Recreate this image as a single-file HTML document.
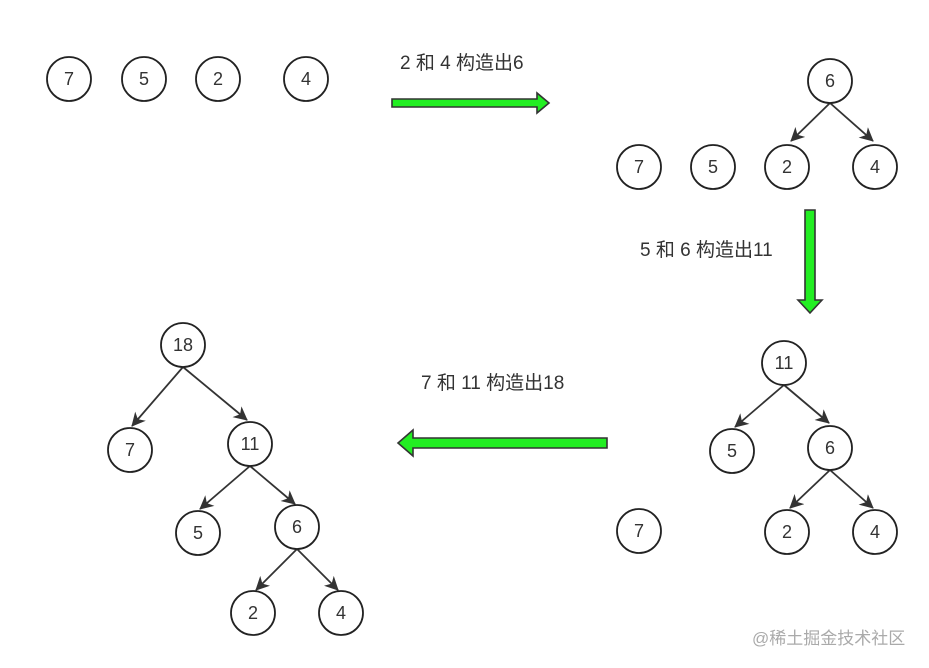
<!DOCTYPE html>
<html><head><meta charset="utf-8"><style>body{margin:0;background:#fff}svg{display:block}text{font-family:"Liberation Sans","Noto Sans CJK SC",sans-serif}</style></head><body>
<svg width="929" height="668" viewBox="0 0 929 668" xmlns="http://www.w3.org/2000/svg">
<defs><marker id="a" markerWidth="14" markerHeight="14" refX="13" refY="7" orient="auto" markerUnits="userSpaceOnUse" viewBox="0 0 14 14"><path d="M0,0 L14,7 L0,14 L4,7 z" fill="#333"/></marker></defs>
<g stroke="#333" stroke-width="1.8" marker-end="url(#a)">
<line x1="830" y1="103" x2="791" y2="141"/><line x1="830" y1="103" x2="873" y2="141"/>
<line x1="784" y1="385" x2="735" y2="427"/><line x1="784" y1="385" x2="829" y2="423"/>
<line x1="830" y1="470" x2="790" y2="508"/><line x1="830" y1="470" x2="873" y2="508"/>
<line x1="183" y1="367" x2="132" y2="426"/><line x1="183" y1="367" x2="247" y2="420"/>
<line x1="250" y1="466" x2="200" y2="509"/><line x1="250" y1="466" x2="295" y2="504"/>
<line x1="297" y1="549" x2="256" y2="590"/><line x1="297" y1="549" x2="338" y2="590"/>
</g>
<g fill="#fff" stroke="#222" stroke-width="1.8">
<circle cx="69" cy="79" r="22"/><circle cx="144" cy="79" r="22"/><circle cx="218" cy="79" r="22"/><circle cx="306" cy="79" r="22"/>
<circle cx="830" cy="81" r="22"/><circle cx="639" cy="167" r="22"/><circle cx="713" cy="167" r="22"/><circle cx="787" cy="167" r="22"/><circle cx="875" cy="167" r="22"/>
<circle cx="784" cy="363" r="22"/><circle cx="732" cy="451" r="22"/><circle cx="830" cy="448" r="22"/><circle cx="639" cy="531" r="22"/><circle cx="787" cy="532" r="22"/><circle cx="875" cy="532" r="22"/>
<circle cx="183" cy="345" r="22"/><circle cx="130" cy="450" r="22"/><circle cx="250" cy="444" r="22"/><circle cx="198" cy="533" r="22"/><circle cx="297" cy="527" r="22"/><circle cx="253" cy="613" r="22"/><circle cx="341" cy="613" r="22"/>
</g>
<g font-size="18" fill="#333" text-anchor="middle" dominant-baseline="central">
<text x="69" y="79">7</text><text x="144" y="79">5</text><text x="218" y="79">2</text><text x="306" y="79">4</text>
<text x="830" y="81">6</text><text x="639" y="167">7</text><text x="713" y="167">5</text><text x="787" y="167">2</text><text x="875" y="167">4</text>
<text x="784" y="363">11</text><text x="732" y="451">5</text><text x="830" y="448">6</text><text x="639" y="531">7</text><text x="787" y="532">2</text><text x="875" y="532">4</text>
<text x="183" y="345">18</text><text x="130" y="450">7</text><text x="250" y="444">11</text><text x="198" y="533">5</text><text x="297" y="527">6</text><text x="253" y="613">2</text><text x="341" y="613">4</text>
</g>
<g fill="#22ee22" stroke="#333" stroke-width="1.6">
<path d="M392,99 L537,99 L537,93 L549,103 L537,113 L537,107 L392,107 Z"/>
<path d="M805,210 L815,210 L815,300 L822,300 L810,313 L798,300 L805,300 Z"/>
<path d="M607,438 L413,438 L413,430 L398,443 L413,456 L413,448 L607,448 Z"/>
</g>
<g font-size="19" fill="#333">
<text x="400" y="69">2 和 4 构造出6</text>
<text x="640" y="256">5 和 6 构造出11</text>
<text x="421" y="389">7 和 11 构造出18</text>
</g>
<text x="752" y="644" font-size="17" fill="#aaa">@稀土掘金技术社区</text>
</svg>
</body></html>
